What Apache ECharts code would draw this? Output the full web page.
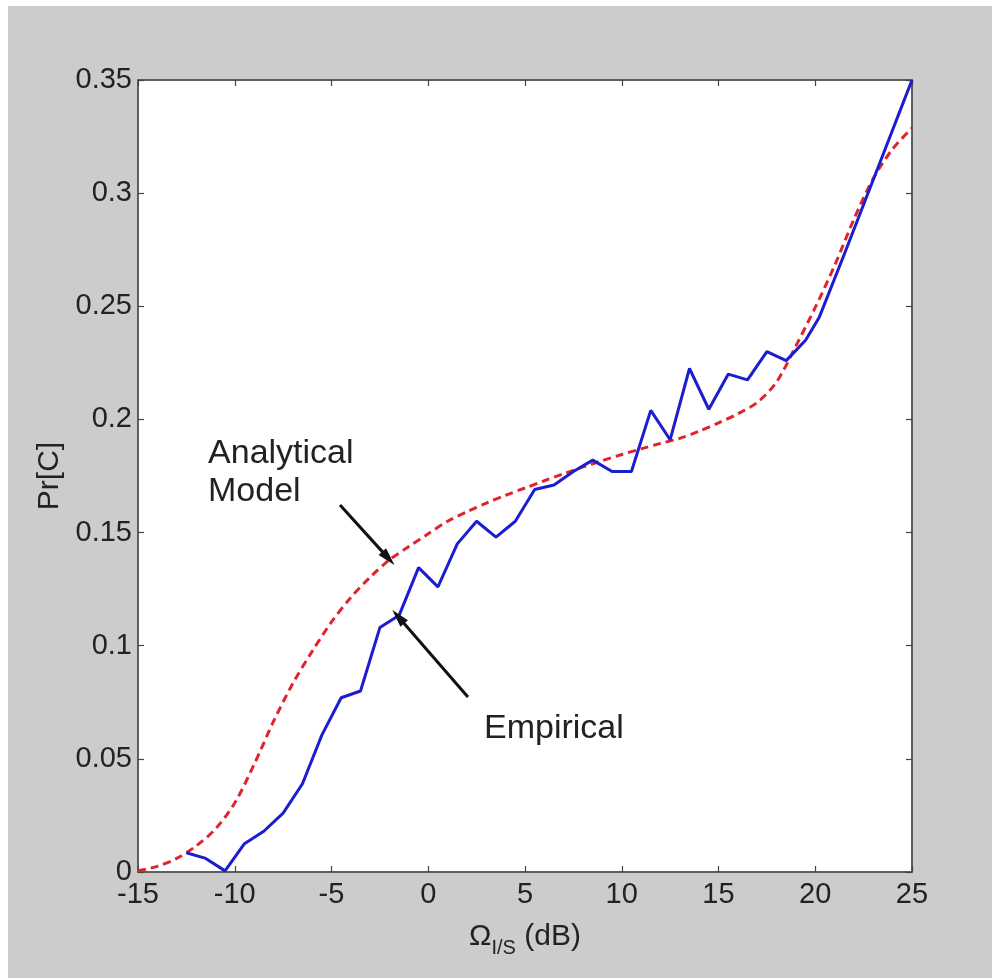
<!DOCTYPE html>
<html>
<head>
<meta charset="utf-8">
<script src="https://cdn.jsdelivr.net/npm/echarts@6/dist/echarts.min.js"></script>
<style>
  html, body { margin: 0; padding: 0; background: #fff; }
  #main { position: absolute; left: 8px; top: 6px; width: 984px; height: 972px; background: #cccccc; }
</style>
</head>
<body>
<div id="main"></div>
<script>
// 经验曲线 (Empirical)
const empX = [-12.5, -11.5, -10.5, -9.5, -8.5, -7.5, -6.5, -5.5, -4.5, -3.5, -2.5, -1.5, -0.5,
  0.5, 1.5, 2.5, 3.5, 4.5, 5.5, 6.5, 7.5, 8.5, 9.5, 10.5, 11.5, 12.5, 13.5, 14.5, 15.5, 16.5,
  17.5, 18.5, 19.5, 20.2, 21.5, 22.5, 23.5, 24.5, 25]
const empY = [0.0085, 0.006, 0.0005, 0.0125, 0.018, 0.026, 0.039, 0.0605, 0.077, 0.080, 0.108, 0.1135, 0.1345,
  0.126, 0.145, 0.155, 0.148, 0.155, 0.169, 0.171, 0.177, 0.182, 0.177, 0.177, 0.204, 0.191, 0.2225, 0.2045, 0.220, 0.2175,
  0.230, 0.226, 0.235, 0.245, 0.273, 0.295, 0.317, 0.339, 0.35]

// 解析模型 (Analytical Model)
const anaX = [-15, -14, -13, -12, -11, -10, -9, -8, -7, -6, -5, -4, -3, -2, -1, 0, 1, 2, 3, 4, 5,
  6, 7, 8, 9, 10, 11, 12, 13, 14, 15, 16, 17, 18, 19, 20, 21, 22, 23, 24, 25]
const anaY = [0.0005, 0.0025, 0.006, 0.0115, 0.019, 0.0305, 0.0475, 0.0665, 0.0833, 0.0975, 0.1105, 0.1213, 0.1303, 0.138, 0.1438, 0.1495, 0.155,
  0.1592, 0.163, 0.1665, 0.1697, 0.1729, 0.176, 0.179, 0.1818, 0.1845, 0.187, 0.1894, 0.1916, 0.1948, 0.1985, 0.2025, 0.2075, 0.2165,
  0.2325, 0.2495, 0.268, 0.2885, 0.3065, 0.3195, 0.3288]

const xTicks = [-15, -10, -5, 0, 5, 10, 15, 20, 25]
const yTicks = [0, 0.05, 0.1, 0.15, 0.2, 0.25, 0.3, 0.35]

// 注释箭头：[起点, 终点]
const arrows = [
  [[-4.56, 0.1622], [-2.06, 0.1386]],
  [[2.05, 0.0773], [-1.55, 0.1128]],
]
const notes = [
  { text: 'Analytical\nModel', at: [-11.38, 0.1935] },
  { text: 'Empirical', at: [2.88, 0.0716] },
]

const FONT = '"Liberation Sans", Arial, Helvetica, sans-serif'
const chart = echarts.init(document.getElementById('main'))

const tickStyle = { inside: true, length: 6, lineStyle: { color: '#444', width: 1.2 } }
const axisLine = { show: true, onZero: false, lineStyle: { color: '#555', width: 1.5 } }

chart.setOption({
  animation: false,
  backgroundColor: 'transparent',
  grid: { left: 130, top: 74, right: 80, bottom: 106, show: true, backgroundColor: '#fff', borderColor: '#555', borderWidth: 1.5 },
  xAxis: [{
    type: 'value', min: xTicks[0], max: xTicks[xTicks.length - 1], interval: 5,
    axisLine, axisTick: tickStyle, splitLine: { show: false },
    axisLabel: { fontFamily: FONT, fontSize: 29, color: '#222', margin: 8 },
    name: '{o|Ω}{s|I/S}{n| (dB)}', nameLocation: 'middle', nameGap: 48,
    nameTextStyle: {
      fontFamily: FONT, color: '#222',
      rich: {
        o: { fontFamily: FONT, fontSize: 30, color: '#222', lineHeight: 34 },
        s: { fontFamily: FONT, fontSize: 20, color: '#222', padding: [22, 0, 0, 0], lineHeight: 34 },
        n: { fontFamily: FONT, fontSize: 30, color: '#222', lineHeight: 34 },
      },
    },
  }, {
    type: 'value', position: 'top', min: xTicks[0], max: xTicks[xTicks.length - 1], interval: 5,
    axisLine, axisTick: tickStyle, axisLabel: { show: false }, splitLine: { show: false },
  }],
  yAxis: [{
    type: 'value', min: 0, max: yTicks[yTicks.length - 1], interval: 0.05,
    axisLine, axisTick: tickStyle, splitLine: { show: false },
    axisLabel: { fontFamily: FONT, fontSize: 29, color: '#222', margin: 6 },
    name: 'Pr[C]', nameLocation: 'middle', nameGap: 72, nameRotate: 90,
    nameTextStyle: { fontFamily: FONT, fontSize: 30, color: '#222' },
  }, {
    type: 'value', position: 'right', min: 0, max: yTicks[yTicks.length - 1], interval: 0.05,
    axisLine, axisTick: tickStyle, axisLabel: { show: false }, splitLine: { show: false },
  }],
  series: [{
    name: 'Analytical', type: 'line', smooth: 0.3, symbol: 'none', z: 3,
    data: anaX.map((x, i) => [x, anaY[i]]),
    lineStyle: { color: '#e0242a', width: 3, type: [8, 5] },
  }, {
    name: 'Empirical', type: 'line', symbol: 'none', z: 4,
    data: empX.map((x, i) => [x, empY[i]]),
    lineStyle: { color: '#1c1cd0', width: 3 },
    markLine: {
      silent: true, symbol: ['none', 'triangle'], symbolSize: [10, 18],
      label: { show: false },
      lineStyle: { color: '#111', width: 3, type: 'solid' },
      data: arrows.map(a => [{ coord: a[0] }, { coord: a[1] }]),
    },
  }],
})

// 注释文字放在数据坐标处
chart.setOption({
  graphic: notes.map(n => {
    const p = chart.convertToPixel({ xAxisIndex: 0, yAxisIndex: 0 }, n.at)
    return {
      type: 'text', x: p[0], y: p[1], z: 10,
      style: { text: n.text, fontFamily: FONT, fontSize: 34, fill: '#222', lineHeight: 38, textVerticalAlign: 'top' },
    }
  }),
})
</script>
</body>
</html>
